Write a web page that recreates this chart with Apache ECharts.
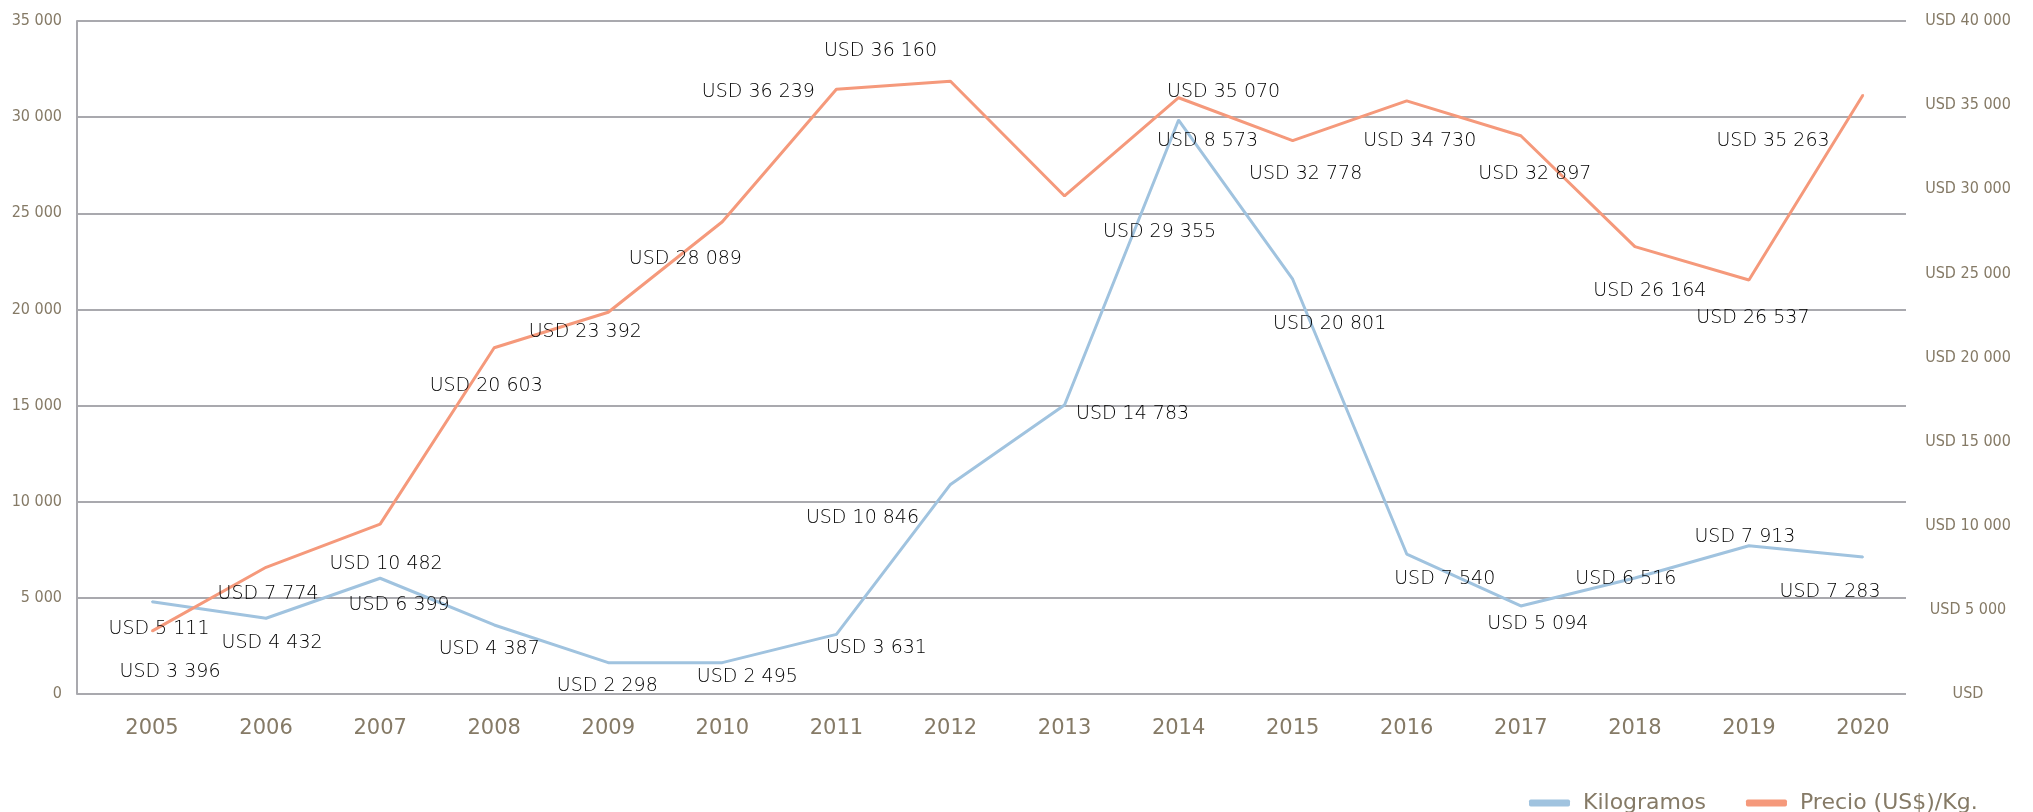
<!DOCTYPE html>
<html>
<head>
<meta charset="utf-8">
<title>Kilogramos y precio</title>
<script src="https://cdn.jsdelivr.net/npm/echarts@6/dist/echarts.min.js"></script>
<style>
  html, body { margin: 0; padding: 0; background: #fff; }
  #chart { width: 2033px; height: 812px; }
</style>
</head>
<body>
<div id="chart"></div>
<script>
// data
const years = ['2005', '2006', '2007', '2008', '2009', '2010', '2011', '2012',
               '2013', '2014', '2015', '2016', '2017', '2018', '2019', '2020'];
const kilogramos = [4800, 3940, 6020, 3590, 1630, 1630, 3100, 10900,
                    15030, 29850, 21570, 7280, 4580, 6030, 7710, 7120];
const precio = [3740, 7530, 10100, 20580, 22690, 28070, 35940, 36420,
                29600, 35440, 32890, 35250, 33180, 26590, 24610, 35600];
const kgLabels = ['USD 5 111', 'USD 4 432', 'USD 6 399', 'USD 4 387', 'USD 2 298', 'USD 2 495',
                  'USD 3 631', 'USD 10 846', 'USD 14 783', 'USD 8 573', 'USD 20 801', 'USD 7 540',
                  'USD 5 094', 'USD 6 516', 'USD 7 913', 'USD 7 283'];
const precioLabels = ['USD 3 396', 'USD 7 774', 'USD 10 482', 'USD 20 603', 'USD 23 392', 'USD 28 089',
                      'USD 36 239', 'USD 36 160', 'USD 29 355', 'USD 35 070', 'USD 32 778', 'USD 34 730',
                      'USD 32 897', 'USD 26 164', 'USD 26 537', 'USD 35 263'];
const leftMax = 35000;
const rightMax = 40000;
const tickStep = 5000;

// where each label sits relative to its point (px)
const kgLabelOffsets = [[7, 27], [6, 25], [19, 27], [-5, 24], [-1, 23], [25, 14], [40, 14], [-88, 34],
                        [68, 9], [29, 21], [37, 45], [38, 25], [17, 18], [-9, 1], [-4, -9], [-33, 35]];
const precioLabelOffsets = [[18, 41], [2, 27], [6, 40], [-8, 38], [-23, 20], [-37, 37], [-78, 3], [-70, -30],
                            [95, 36], [45, -6], [13, 33], [13, 40], [14, 38], [15, 44], [4, 38], [-90, 46]];

const axisColor = '#857a66';
const gridColor = '#a9a9ae';
const blue = '#a0c3df';
const orange = '#f5997b';
const narrowFont = 'DejaVu Sans Condensed';

function fmt(v) {
    return String(v).replace(/\B(?=(\d{3})+(?!\d))/g, ' ');
}

function withLabels(values, texts, offsets) {
    return values.map((v, i) => ({
        value: v,
        label: { formatter: texts[i], offset: offsets[i] }
    }));
}

const labelStyle = {
    show: true,
    position: 'inside',
    align: 'center',
    verticalAlign: 'middle',
    fontFamily: 'DejaVu Sans',
    fontWeight: 200,
    fontSize: 19,
    color: '#000'
};

const chart = echarts.init(document.getElementById('chart'));
chart.setOption({
    animation: false,
    backgroundColor: '#fff',
    grid: [
        { left: 77, right: 127, top: 21, bottom: 118 },
        { left: 152, right: 170, top: 21, bottom: 118 }
    ],
    legend: {
        data: ['Kilogramos', 'Precio (US$)/Kg.'],
        left: 1524,
        top: 787,
        icon: 'roundRect',
        itemWidth: 41,
        itemHeight: 7,
        itemGap: 40,
        textStyle: {
            fontFamily: 'DejaVu Sans',
            fontSize: 22,
            color: axisColor,
            padding: [0, 0, 0, 8]
        }
    },
    xAxis: [
        { type: 'value', gridIndex: 0, show: false, min: 0, max: 1 },
        {
            type: 'category',
            gridIndex: 1,
            data: years,
            boundaryGap: false,
            axisLine: { show: false },
            axisTick: { show: false },
            axisLabel: {
                margin: 24,
                fontFamily: 'DejaVu Sans',
                fontSize: 21,
                color: axisColor
            }
        }
    ],
    yAxis: [
        {
            type: 'value',
            gridIndex: 0,
            min: 0,
            max: leftMax,
            interval: tickStep,
            axisLine: { show: true, lineStyle: { color: gridColor, width: 2 } },
            axisTick: { show: false },
            splitLine: { lineStyle: { color: gridColor, width: 2 } },
            axisLabel: {
                margin: 15,
                fontFamily: narrowFont,
                fontSize: 16,
                color: axisColor,
                formatter: v => fmt(v)
            }
        },
        {
            type: 'value',
            gridIndex: 0,
            position: 'right',
            min: 0,
            max: rightMax,
            interval: tickStep,
            axisLine: { show: false },
            axisTick: { show: false },
            splitLine: { show: false },
            axisLabel: {
                margin: 62,
                align: 'center',
                fontFamily: narrowFont,
                fontSize: 16,
                color: axisColor,
                formatter: v => v === 0 ? 'USD' : 'USD ' + fmt(v)
            }
        },
        { type: 'value', gridIndex: 1, min: 0, max: leftMax, show: false, splitLine: { show: false } },
        { type: 'value', gridIndex: 1, min: 0, max: rightMax, show: false, splitLine: { show: false } }
    ],
    series: [
        {
            name: 'Kilogramos',
            type: 'line',
            xAxisIndex: 1,
            yAxisIndex: 2,
            data: withLabels(kilogramos, kgLabels, kgLabelOffsets),
            symbol: 'circle',
            symbolSize: 2,
            lineStyle: { color: blue, width: 3 },
            itemStyle: { color: blue },
            label: labelStyle,
            z: 3
        },
        {
            name: 'Precio (US$)/Kg.',
            type: 'line',
            xAxisIndex: 1,
            yAxisIndex: 3,
            data: withLabels(precio, precioLabels, precioLabelOffsets),
            symbol: 'circle',
            symbolSize: 2,
            lineStyle: { color: orange, width: 3 },
            itemStyle: { color: orange },
            label: labelStyle,
            z: 3
        }
    ]
});
</script>
</body>
</html>
